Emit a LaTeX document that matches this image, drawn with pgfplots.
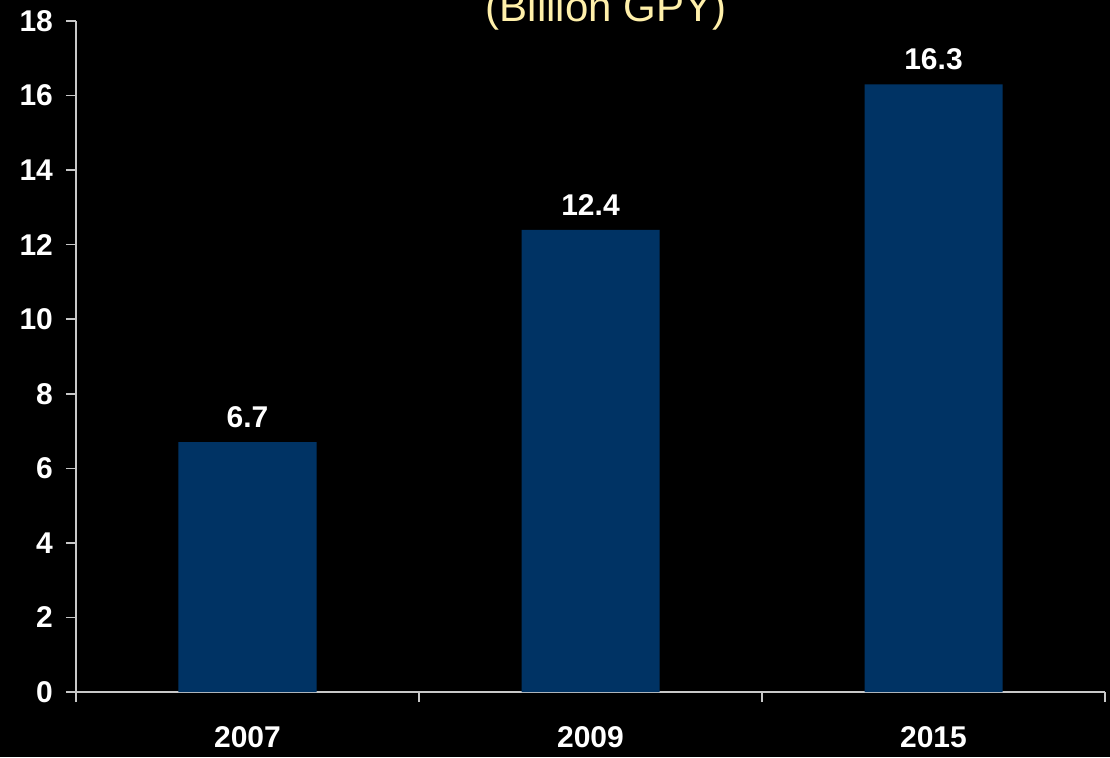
\documentclass[border=0pt]{standalone}
\usepackage{fontspec}
\setmainfont{Liberation Sans}
\usepackage{pgfplots}
\pgfplotsset{compat=1.18}
\definecolor{barblue}{RGB}{0,51,100}
\definecolor{titleyellow}{RGB}{255,240,170}
\definecolor{axisgray}{RGB}{200,200,200}
\begin{document}
\begin{tikzpicture}
\fill[black] (-38pt,-32.5pt) rectangle (517pt,346pt);
\begin{axis}[
  scale only axis,
  width=514.5pt, height=335.5pt,
  xmin=-0.5, xmax=2.5, ymin=0, ymax=18,
  axis x line*=bottom, axis y line*=left,
  axis line style={axisgray, line width=0.8pt},
  tick style={axisgray, line width=0.8pt},
  tick align=outside,
  major tick length=5pt, minor tick length=5pt,
  xtick={0,1,2}, xticklabels={2007,2009,2015},
  minor xtick={-0.5,0.5,1.5,2.5},
  every major x tick/.style={draw=none},
  ytick={0,2,...,18},
  /pgf/number format/assume math mode=true,
  ticklabel style={font=\bfseries\fontsize{15}{18}\selectfont, text=white},
  xticklabel style={yshift=-8.5pt},
  yticklabel style={xshift=-3pt},
  ybar, bar width=69pt,
  nodes near coords,
  nodes near coords style={font=\bfseries\fontsize{15}{18}\selectfont, text=white, yshift=3.5pt,
    /pgf/number format/.cd, fixed, fixed zerofill, precision=1},
]
\addplot[fill=barblue, draw=none] coordinates {(0,6.7) (1,12.4) (2,16.3)};
\end{axis}
\node[anchor=base, text=titleyellow, font=\fontsize{21}{25}\selectfont] at (265pt,335pt) {(Billion GPY)};
\pgfresetboundingbox
\useasboundingbox (-38pt,-32.5pt) rectangle (517pt,346pt);
\end{tikzpicture}
\end{document}
